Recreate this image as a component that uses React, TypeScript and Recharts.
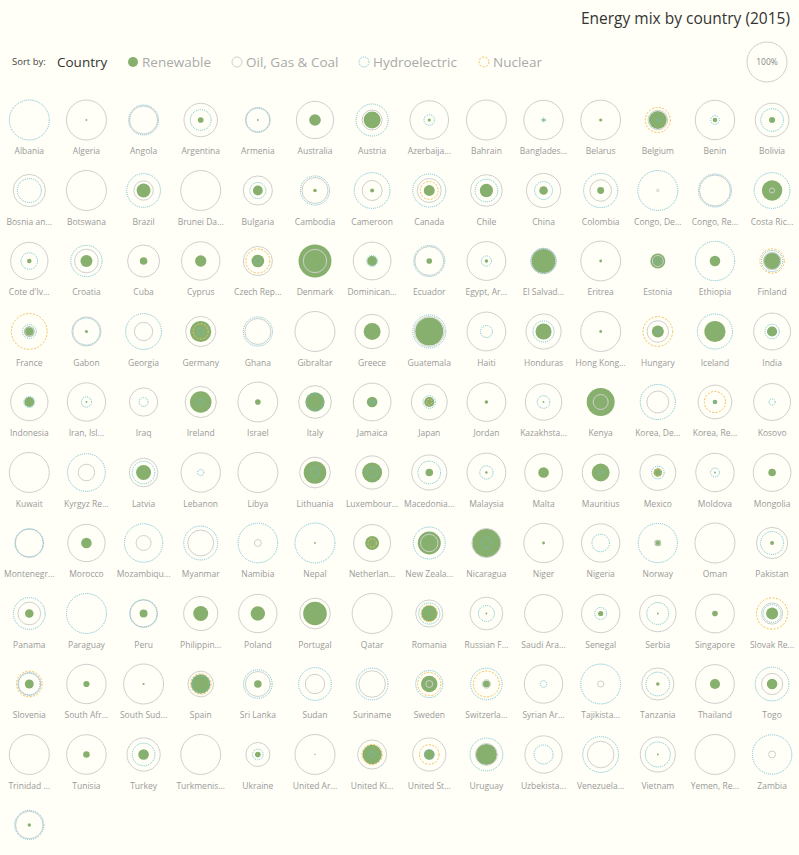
import { ScatterChart, Scatter, XAxis, YAxis, ZAxis } from "recharts";

const countries = [
  "Albania", "Algeria", "Angola", "Argentina", "Armenia", "Australia", "Austria", "Azerbaijan", "Bahrain", "Bangladesh", "Belarus", "Belgium", "Benin", "Bolivia",
  "Bosnia and Herzegovina", "Botswana", "Brazil", "Brunei Darussalam", "Bulgaria", "Cambodia", "Cameroon", "Canada", "Chile", "China", "Colombia", "Congo, Dem. Rep.", "Congo, Rep.", "Costa Rica",
  "Cote d'Ivoire", "Croatia", "Cuba", "Cyprus", "Czech Republic", "Denmark", "Dominican Republic", "Ecuador", "Egypt, Arab Rep.", "El Salvador", "Eritrea", "Estonia", "Ethiopia", "Finland",
  "France", "Gabon", "Georgia", "Germany", "Ghana", "Gibraltar", "Greece", "Guatemala", "Haiti", "Honduras", "Hong Kong SAR, China", "Hungary", "Iceland", "India",
  "Indonesia", "Iran, Islamic Rep.", "Iraq", "Ireland", "Israel", "Italy", "Jamaica", "Japan", "Jordan", "Kazakhstan", "Kenya", "Korea, Dem. People's Rep.", "Korea, Rep.", "Kosovo",
  "Kuwait", "Kyrgyz Republic", "Latvia", "Lebanon", "Libya", "Lithuania", "Luxembourg", "Macedonia, FYR", "Malaysia", "Malta", "Mauritius", "Mexico", "Moldova", "Mongolia",
  "Montenegro", "Morocco", "Mozambique", "Myanmar", "Namibia", "Nepal", "Netherlands", "New Zealand", "Nicaragua", "Niger", "Nigeria", "Norway", "Oman", "Pakistan",
  "Panama", "Paraguay", "Peru", "Philippines", "Poland", "Portugal", "Qatar", "Romania", "Russian Federation", "Saudi Arabia", "Senegal", "Serbia", "Singapore", "Slovak Republic",
  "Slovenia", "South Africa", "South Sudan", "Spain", "Sri Lanka", "Sudan", "Suriname", "Sweden", "Switzerland", "Syrian Arab Republic", "Tajikistan", "Tanzania", "Thailand", "Togo",
  "Trinidad and Tobago", "Tunisia", "Turkey", "Turkmenistan", "Ukraine", "United Arab Emirates", "United Kingdom", "United States", "Uruguay", "Uzbekistan", "Venezuela, RB", "Vietnam", "Yemen, Rep.", "Zambia",
  "Zimbabwe",
];

// % of electricity production
const renewable = [
  0, 0.2, 0, 2, 0.2, 8.5, 18, 0.6, 0, 0.4, 0.6, 20, 1.3, 2.3,
  0, 0, 12, 0, 6, 0.8, 1, 7.5, 11, 4.6, 3, 0, 0, 26,
  1.3, 9, 3.6, 8, 10, 68, 6, 2, 0.8, 36, 0.5, 14, 7, 19,
  7, 0.6, 0, 28, 0, 0, 18, 49, 0, 16, 0.5, 9, 28, 6.5,
  6, 0.2, 0, 29, 2, 23.5, 7, 6.5, 0.8, 0.2, 49, 0, 1.3, 0,
  0, 0, 14, 0, 0, 32, 25, 3.6, 0.4, 7, 20, 4.6, 0.2, 3.6,
  0, 7, 0, 0, 0, 0.2, 12, 33, 50, 0.5, 0, 2.7, 0, 1,
  4.6, 0, 4, 14, 13, 35, 0, 16, 0.2, 0, 1.7, 0.2, 2, 9,
  5, 2.4, 0.3, 23.5, 3.6, 0, 0, 17, 3, 0, 0, 0.8, 6.5, 7,
  0, 2.7, 7, 0, 2, 0.1, 23.5, 7, 28, 0, 0, 0.2, 0, 0,
  0.7,
];
const fossil = [
  0, 100, 49, 70, 39, 87, 25, 93, 100, 97, 99, 24, 97, 71,
  65, 100, 23.5, 100, 53, 42, 25, 36, 63, 73, 29, 0.4, 60, 1.6,
  87, 35, 64, 92, 53, 34, 89, 52, 94, 41, 99, 7.6, 0, 18,
  5, 53, 21, 57, 42, 100, 73, 56, 94, 77, 100, 29, 0, 85,
  87, 92, 50, 61, 99, 67, 89, 80, 94, 83, 14, 30, 71, 85,
  100, 17, 51, 97, 100, 59, 69, 77, 94, 89, 85, 80, 92, 89,
  49, 87, 14, 42, 3, 0, 85, 19, 53, 97, 92, 1.6, 100, 61,
  32, 0, 46, 73, 92, 59, 100, 46, 67, 90, 92, 83, 94, 28,
  33, 97, 100, 41, 39, 23.5, 44, 3, 4.5, 92, 2.4, 65, 94, 28,
  100, 98, 69, 100, 36, 100, 53, 69, 30, 87, 44, 77, 100, 3,
  47,
];
const hydro = [
  100, 0, 56, 27, 34, 0, 64, 7, 0, 1, 0, 0.6, 4.6, 32,
  36, 0, 71, 0, 16, 53, 80, 68, 32, 20, 73, 99.6, 68, 80,
  17, 61, 0, 0, 2, 0, 7.5, 60, 6.5, 39, 0, 2, 97, 28,
  12, 45, 80, 3, 53, 0, 0, 68, 9, 28, 0, 1, 77, 13,
  7.5, 6.5, 5, 2, 0, 18, 1, 10, 0, 10, 0, 77, 0.3, 2.4,
  0, 89, 32, 2.4, 0, 5, 6, 32, 11, 0, 1, 10, 5, 0,
  51, 0, 92, 72, 98, 99.5, 0, 64, 7, 0, 19, 96, 0, 33,
  63, 100, 48, 0, 0, 0, 0, 28, 16, 0, 9, 30, 0, 20,
  29, 0, 0, 18, 51, 67, 63, 46, 62, 2.7, 99, 35, 0, 71,
  0, 0, 32, 0, 7, 0, 2, 6, 67, 22.6, 80, 39, 0, 97,
  53,
];
const nuclear = [
  0, 0, 0, 0, 0, 0, 0, 0, 0, 0, 0, 39, 0, 0,
  0, 0, 0, 0, 0, 0, 0, 20, 0, 0, 0, 0, 0, 0,
  0, 0, 0, 0, 36, 0, 0, 0, 0, 0, 0, 0, 0, 37,
  80, 0, 0, 14, 0, 0, 0, 0, 0, 0, 0, 55, 0, 0,
  0, 0, 0, 0, 0, 0, 0, 2, 0, 0, 0, 0, 28, 0,
  0, 0, 0, 0, 0, 0, 0, 0, 0, 0, 0, 3, 0, 0,
  0, 0, 0, 0, 0, 0, 4.5, 0, 0, 0, 0, 0, 0, 0,
  0, 0, 0, 0, 0, 0, 0, 17, 0, 0, 0, 0, 0, 61,
  41, 0, 0, 26, 0, 0, 0, 34, 42, 0, 0, 0, 0, 0,
  0, 0, 0, 0, 0, 0, 26, 24, 0, 0, 0, 0, 0, 0,
  0,
];

const COLS = 14;
const FULL = Math.PI * 20 * 20; // area of the 100% circle (r = 20)

const BG = "#fffff7";
const GREEN = "#87b06f";
const GRAY = "#cfcfcf";
const TEAL = "#6fbfd3";
const ORANGE = "#f3bf5b";

const data = countries.map((name, i) => ({
  name,
  col: i % COLS,
  row: Math.floor(i / COLS),
  renewable: renewable[i],
  fossil: fossil[i],
  hydro: hydro[i],
  nuclear: nuclear[i],
}));

const short = (s: string) => (s.length > 9 ? s.slice(0, 9) + "..." : s);

const ring = (stroke: string, dash?: string) => (props: any) => {
  const r = props.width / 2;
  if (!r || r < 0.4) return <g />;
  return (
    <circle cx={props.cx} cy={props.cy} r={r} fill="none" stroke={stroke} strokeWidth={1} strokeDasharray={dash} />
  );
};

const dot = (props: any) => {
  const r = props.width / 2;
  if (!r || r < 0.3) return <g />;
  return <circle cx={props.cx} cy={props.cy} r={r} fill={GREEN} />;
};

// last row's label falls below the page fold in the original
const label = (props: any) =>
  props.payload.row > 9 ? (
    <g />
  ) : (
    <text x={props.cx} y={props.cy + 34} textAnchor="middle" fontSize={8.5} fill="#9a9a9a" fontFamily="Open Sans">
      {short(props.payload.name)}
    </text>
  );

const legendItems = [
  { name: "Renewable", x: 133, fill: GREEN, stroke: "none", dash: undefined },
  { name: "Oil, Gas & Coal", x: 237, fill: "none", stroke: GRAY, dash: undefined },
  { name: "Hydroelectric", x: 364, fill: "none", stroke: TEAL, dash: "1 1" },
  { name: "Nuclear", x: 484, fill: "none", stroke: ORANGE, dash: "2 1.5" },
];

export default function App() {
  return (
    <div style={{ position: "absolute", left: 0, top: 0, width: 799, height: 855, background: BG, fontFamily: "Open Sans", overflow: "hidden" }}>
      <svg width={799} height={90} style={{ position: "absolute", left: 0, top: 0 }}>
        <text x={790} y={24} textAnchor="end" fontSize={15.5} fill="#333">
          Energy mix by country (2015)
        </text>
        <text x={12} y={65} fontSize={9.5} fill="#444">Sort by:</text>
        <text x={57} y={67} fontSize={13.5} fill="#333">Country</text>
        {legendItems.map((d) => (
          <g key={d.name}>
            <circle cx={d.x} cy={62} r={5} fill={d.fill} stroke={d.stroke} strokeDasharray={d.dash} />
            <text x={d.x + 9} y={67} fontSize={13.5} fill="#aaa">{d.name}</text>
          </g>
        ))}
        <circle cx={767} cy={62} r={20} fill="none" stroke={GRAY} />
        <text x={767} y={65} textAnchor="middle" fontSize={8.5} fill="#888">100%</text>
      </svg>
      <div style={{ position: "absolute", left: 0, top: 0 }}>
        <ScatterChart width={799} height={849} margin={{ top: 120, right: 26.9, bottom: 24, left: 29.3 }}>
          <XAxis type="number" dataKey="col" domain={[0, 13]} hide />
          <YAxis type="number" dataKey="row" domain={[0, 10]} reversed hide />
          <ZAxis zAxisId="r" type="number" dataKey="renewable" domain={[0, 100]} range={[0, FULL]} />
          <ZAxis zAxisId="f" type="number" dataKey="fossil" domain={[0, 100]} range={[0, FULL]} />
          <ZAxis zAxisId="h" type="number" dataKey="hydro" domain={[0, 100]} range={[0, FULL]} />
          <ZAxis zAxisId="n" type="number" dataKey="nuclear" domain={[0, 100]} range={[0, FULL]} />
          <Scatter data={data} zAxisId="r" shape={dot} isAnimationActive={false} />
          <Scatter data={data} zAxisId="f" shape={ring(GRAY)} isAnimationActive={false} />
          <Scatter data={data} zAxisId="h" shape={ring(TEAL, "1 1")} isAnimationActive={false} />
          <Scatter data={data} zAxisId="n" shape={ring(ORANGE, "2 1.5")} isAnimationActive={false} />
          <Scatter data={data} zAxisId="r" shape={label} isAnimationActive={false} />
        </ScatterChart>
      </div>
    </div>
  );
}
